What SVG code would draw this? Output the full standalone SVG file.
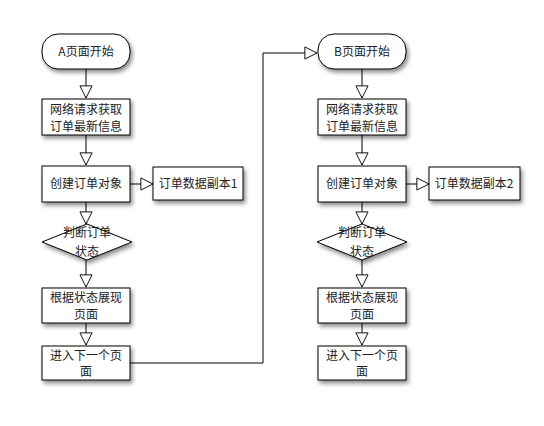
<svg xmlns="http://www.w3.org/2000/svg" width="544" height="426" viewBox="0 0 544 426">
<defs>
<filter id="sh" x="-20%" y="-20%" width="150%" height="160%">
<feDropShadow dx="2" dy="3" stdDeviation="2" flood-color="#000" flood-opacity="0.45"/>
</filter>
<marker id="ar" markerUnits="userSpaceOnUse" markerWidth="16" markerHeight="14" refX="13" refY="6.5" orient="auto" viewBox="-1 -1 16 15">
<path d="M0,0 L13,6.5 L0,13 Z" fill="#fff" stroke="#000" stroke-width="1"/>
</marker>
<style>
.b{fill:#fff;stroke:#000;stroke-width:1;filter:url(#sh)}
.t{font-family:"Noto Sans CJK SC","Liberation Sans",sans-serif;font-size:12px;fill:#222;text-anchor:middle}
.c{fill:none;stroke:#000;stroke-width:1;marker-end:url(#ar)}
</style>
</defs>
<rect width="544" height="426" fill="#fff"/>
<g id="connectors">
<path class="c" d="M86,69 V98"/>
<path class="c" d="M86,135 V165"/>
<path class="c" d="M130,184 H153"/>
<path class="c" d="M86,202 V224"/>
<path class="c" d="M86,260 V287"/>
<path class="c" d="M86,323 V345"/>
<path class="c" d="M130,363 H263 V53 H317"/>
<path class="c" d="M362,69 V98"/>
<path class="c" d="M362,135 V165"/>
<path class="c" d="M406,184 H429"/>
<path class="c" d="M362,202 V224"/>
<path class="c" d="M362,260 V287"/>
<path class="c" d="M362,323 V345"/>
</g>
<g id="a-start"><rect class="b" x="42" y="34" width="88" height="35" rx="16"/><text class="t" x="86" y="56">A页面开始</text></g>
<g id="a-fetch"><rect class="b" x="42" y="99" width="88" height="36"/><text class="t" x="86" y="114">网络请求获取</text><text class="t" x="86" y="131">订单最新信息</text></g>
<g id="a-create"><rect class="b" x="42" y="166" width="88" height="36"/><text class="t" x="86" y="188">创建订单对象</text></g>
<g id="a-copy"><rect class="b" x="153" y="167" width="90" height="33"/><text class="t" x="198" y="188">订单数据副本1</text></g>
<g id="a-judge"><polygon class="b" points="87,224 132,242 87,260 42,242"/><text class="t" x="87" y="237">判断订单</text><text class="t" x="87" y="256">状态</text></g>
<g id="a-show"><rect class="b" x="42" y="288" width="88" height="35"/><text class="t" x="86" y="302">根据状态展现</text><text class="t" x="86" y="319">页面</text></g>
<g id="a-next"><rect class="b" x="42" y="346" width="88" height="34"/><text class="t" x="86" y="360">进入下一个页</text><text class="t" x="86" y="376">面</text></g>
<g id="b-start"><rect class="b" x="318" y="34" width="88" height="35" rx="16"/><text class="t" x="362" y="56">B页面开始</text></g>
<g id="b-fetch"><rect class="b" x="318" y="99" width="88" height="36"/><text class="t" x="362" y="114">网络请求获取</text><text class="t" x="362" y="131">订单最新信息</text></g>
<g id="b-create"><rect class="b" x="318" y="166" width="88" height="36"/><text class="t" x="362" y="188">创建订单对象</text></g>
<g id="b-copy"><rect class="b" x="429" y="167" width="91" height="33"/><text class="t" x="474" y="188">订单数据副本2</text></g>
<g id="b-judge"><polygon class="b" points="362,224 407,242 362,260 317,242"/><text class="t" x="362" y="237">判断订单</text><text class="t" x="362" y="256">状态</text></g>
<g id="b-show"><rect class="b" x="318" y="288" width="88" height="35"/><text class="t" x="362" y="302">根据状态展现</text><text class="t" x="362" y="319">页面</text></g>
<g id="b-next"><rect class="b" x="318" y="346" width="88" height="34"/><text class="t" x="362" y="360">进入下一个页</text><text class="t" x="362" y="376">面</text></g>
</svg>
